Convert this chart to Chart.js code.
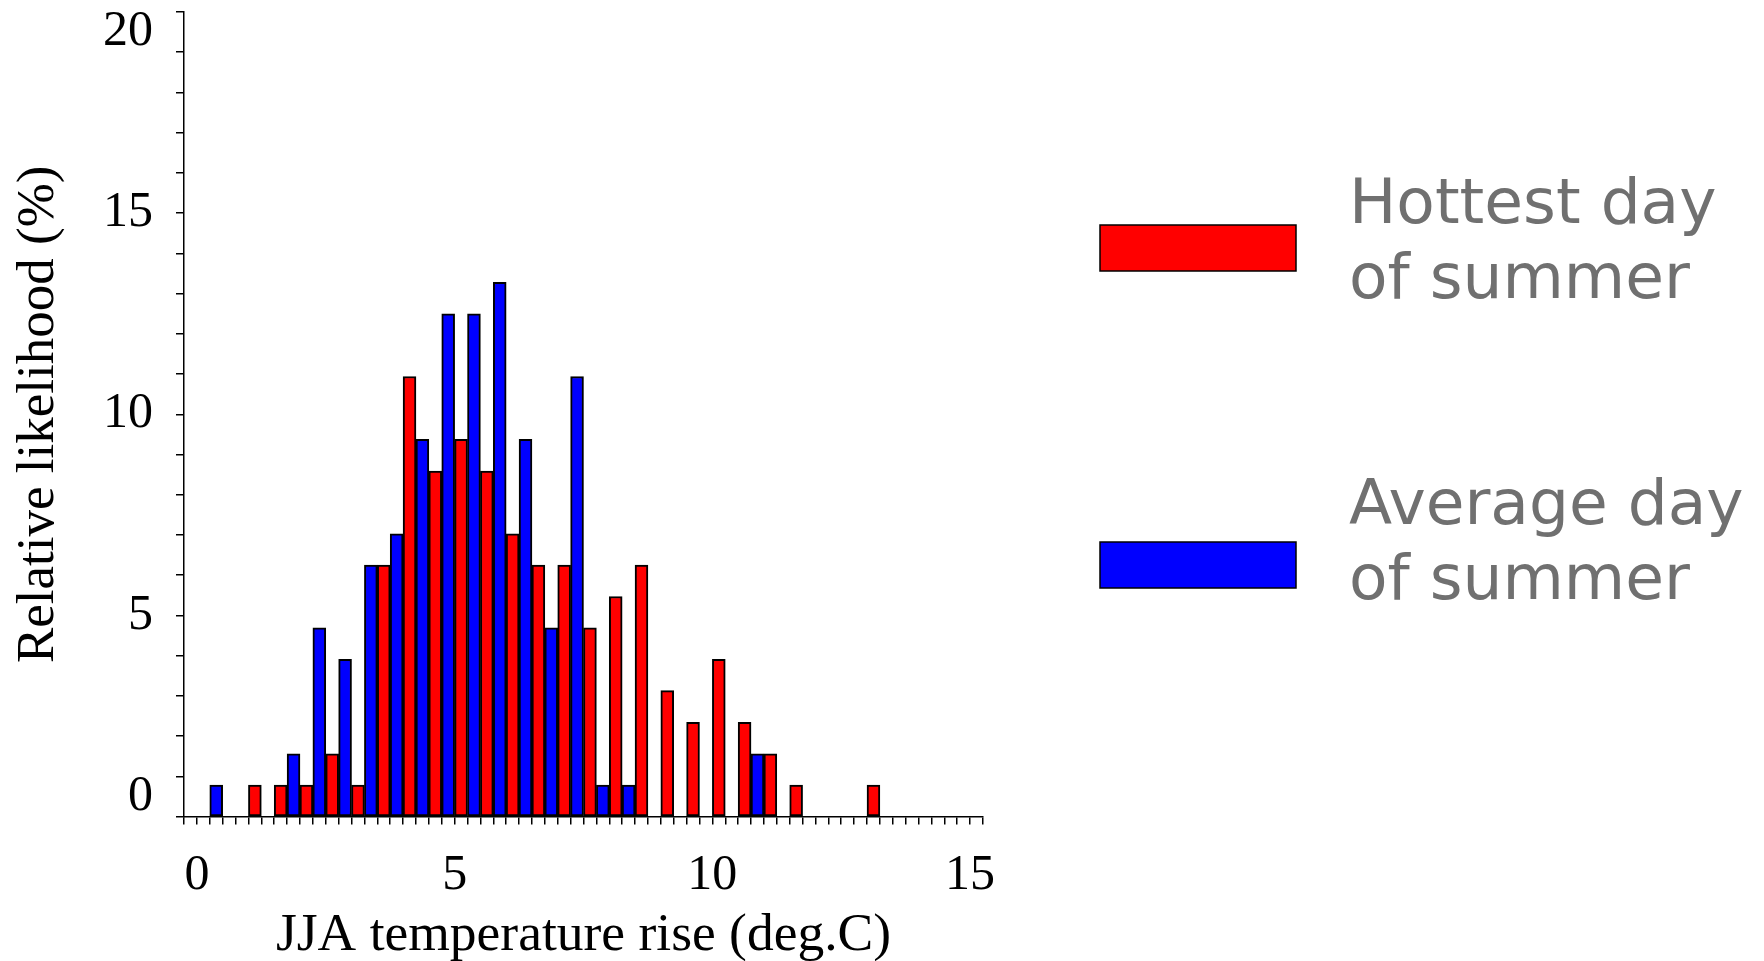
<!DOCTYPE html>
<html>
<head>
<meta charset="utf-8">
<title>JJA temperature rise</title>
<script src="https://cdn.jsdelivr.net/npm/chart.js@4/dist/chart.umd.min.js"></script>
<style>
  body { margin: 0; background: #fff; }
  #wrap { width: 1764px; height: 961px; }
</style>
</head>
<body>
<div id="wrap"><canvas id="histChart" width="1764" height="961"></canvas></div>
<script>
// bin centres (deg.C)
const bins = [0, 0.5, 1, 1.5, 2, 2.5, 3, 3.5, 4, 4.5, 5, 5.5, 6, 6.5, 7, 7.5,
              8, 8.5, 9, 9.5, 10, 10.5, 11, 11.5, 12, 12.5, 13, 13.5, 14, 14.5, 15];

// relative likelihood (%)
const averageDay = [0, 0.78, 0, 0, 1.56, 4.69, 3.91, 6.25, 7.03, 9.38, 12.5, 12.5, 13.28, 9.38, 4.69, 10.94,
                    0.78, 0.78, 0, 0, 0, 0, 1.56, 0, 0, 0, 0, 0, 0, 0, 0];
const hottestDay = [0, 0, 0.78, 0.78, 0.78, 1.56, 0.78, 6.25, 10.94, 8.59, 9.38, 8.59, 7.03, 6.25, 6.25, 4.69,
                    5.47, 6.25, 3.13, 2.34, 3.91, 2.34, 1.56, 0.78, 0, 0, 0.78, 0, 0, 0, 0];

const xLabelTicks = [0, 5, 10, 15];
const yLabelTicks = [0, 5, 10, 15, 20];

const serif = 'Liberation Serif, Times New Roman, serif';

// legend drawn to the right of the plot, two lines per entry
const sideLegend = {
  id: 'sideLegend',
  afterDraw(chart, args, opts) {
    const ctx = chart.ctx;
    const sets = chart.data.datasets.slice().reverse(); // red first, like the original
    ctx.save();
    sets.forEach((ds, i) => {
      const boxTop = opts.boxTops[i];
      ctx.fillStyle = ds.backgroundColor;
      ctx.fillRect(opts.boxX, boxTop, opts.boxW, opts.boxH);
      ctx.lineWidth = 1.5;
      ctx.strokeStyle = '#000';
      ctx.strokeRect(opts.boxX, boxTop, opts.boxW, opts.boxH);

      ctx.font = opts.fontSize + 'px "DejaVu Sans", Verdana, sans-serif';
      ctx.fillStyle = opts.color;
      ctx.textBaseline = 'alphabetic';
      ctx.textAlign = 'left';
      ds.label.forEach((line, j) => {
        ctx.fillText(line, opts.textX, opts.baselines[i] + j * opts.lineGap);
      });
    });
    ctx.restore();
  }
};

new Chart(document.getElementById('histChart'), {
  type: 'bar',
  data: {
    labels: bins,
    datasets: [{
      label: ['Average day', 'of summer'],
      data: averageDay,
      backgroundColor: '#0000ff',
      borderColor: '#000',
      borderWidth: 2,
      borderSkipped: false
    }, {
      label: ['Hottest day', 'of summer'],
      data: hottestDay,
      backgroundColor: '#ff0000',
      borderColor: '#000',
      borderWidth: 2,
      borderSkipped: false
    }]
  },
  options: {
    responsive: false,
    animation: false,
    barThickness: 'flex',
    barPercentage: 1,
    categoryPercentage: 1,
    layout: {
      padding: { left: 0, right: 781, top: 12, bottom: 0 }
    },
    plugins: {
      legend: { display: false },
      tooltip: { enabled: false },
      sideLegend: {
        boxX: 1100, boxW: 196, boxH: 46,
        boxTops: [225, 542],
        textX: 1349,
        baselines: [223, 524],
        lineGap: 75,
        fontSize: 63,
        color: '#707070'
      }
    },
    scales: {
      x: {
        type: 'linear',
        min: -0.25,
        max: 15.25,
        offset: false,
        grid: {
          offset: false,
          drawOnChartArea: false,
          drawTicks: true,
          tickLength: 8,
          color: '#000',
          lineWidth: 1.5
        },
        border: { display: true, color: '#000', width: 1.5 },
        ticks: {
          stepSize: 0.25,
          autoSkip: false,
          maxRotation: 0,
          padding: 28,
          color: '#000',
          font: { family: serif, size: 50, lineHeight: 0.92 },
          callback: (v) => xLabelTicks.includes(v) ? String(v) : ''
        },
        title: {
          display: true,
          text: 'JJA temperature rise (deg.C)',
          color: '#000',
          font: { family: serif, size: 53.5, lineHeight: 0.12 },
          padding: { top: 6, bottom: 22 }
        }
      },
      y: {
        min: 0,
        max: 20,
        grid: {
          drawOnChartArea: false,
          drawTicks: true,
          tickLength: 8,
          color: '#000',
          lineWidth: 1.5
        },
        border: { display: true, color: '#000', width: 1.5 },
        ticks: {
          stepSize: 1,
          autoSkip: false,
          padding: 23,
          color: '#000',
          font: { family: serif, size: 50, lineHeight: 0.8 },
          // end labels sit inside the axis range, as in the original
          callback: (v) => {
            if (!yLabelTicks.includes(v)) return '';
            if (v === 20) return ['', '20'];
            if (v === 0) return ['0', ''];
            return String(v);
          }
        },
        title: {
          display: true,
          text: 'Relative likelihood (%)',
          color: '#000',
          font: { family: serif, size: 53, lineHeight: 1.0 },
          padding: { top: 13, bottom: 14 }
        },
        afterFit: (scale) => {
          scale.paddingTop = 0;
          scale.paddingBottom = 0;
        }
      }
    }
  },
  plugins: [sideLegend]
});
</script>
</body>
</html>
